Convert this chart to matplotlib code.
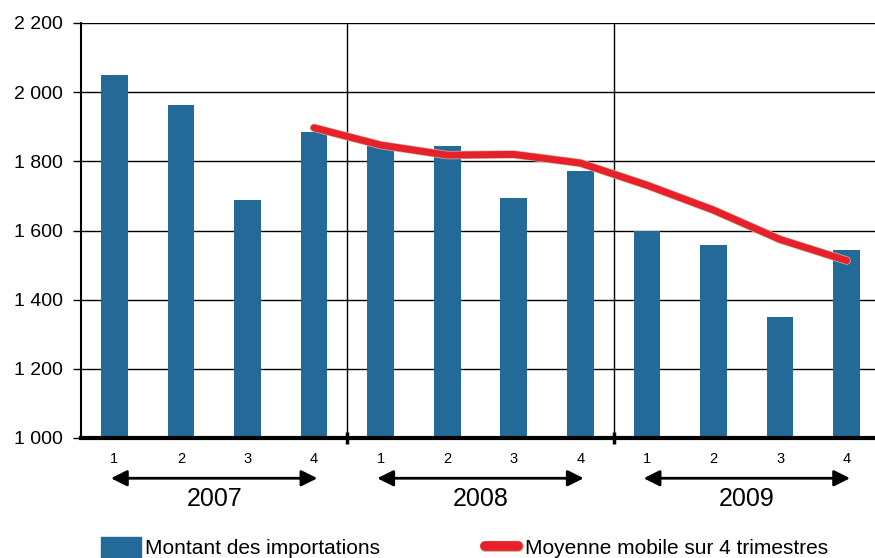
import matplotlib
matplotlib.use("Agg")
import matplotlib.pyplot as plt
import matplotlib.patheffects as pe
from matplotlib.patches import Rectangle
from matplotlib.lines import Line2D
import numpy as np

plt.rcParams['font.family'] = ['Liberation Sans', 'DejaVu Sans']

years = ["2007", "2008", "2009"]
quarters = ["1", "2", "3", "4"]
imports = [2050, 1963, 1688, 1885, 1843, 1845, 1694, 1772, 1598, 1558, 1350, 1544]
moving_avg = [None, None, None, 1897, 1847, 1818, 1820, 1795, 1731, 1659, 1574, 1513]
y_ticks = [1000, 1200, 1400, 1600, 1800, 2000, 2200]
y_labels = ["1 000", "1 200", "1 400", "1 600", "1 800", "2 000", "2 200"]

bar_color = "#246A98"
line_color = "#E8202C"

fig = plt.figure(figsize=(8.75, 5.58), dpi=100)
ax = fig.add_axes([81/875, 120/558, 799/875, 415/558])

x = np.arange(len(imports))
ax.bar(x, imports, width=0.4, color=bar_color, zorder=3)
ma_x = [i for i, v in enumerate(moving_avg) if v is not None]
ma_y = [v for v in moving_avg if v is not None]
ax.plot(ma_x, ma_y, color=line_color, lw=5, solid_capstyle='round', zorder=4,
        path_effects=[pe.Stroke(linewidth=6, foreground='#CDBB9A'), pe.Normal()])

ax.set_xlim(-0.5, len(imports) - 0.5)
ax.set_ylim(1000, 2200)
ax.set_yticks(y_ticks)
ax.set_yticklabels(y_labels, fontsize=14)
ax.yaxis.grid(True, color='black', lw=1, zorder=1)
ax.set_axisbelow(True)
ax.tick_params(axis='y', direction='out', length=6, width=1, pad=7)

ax.set_xticks(x)
ax.set_xticklabels(quarters * len(years), fontsize=10.5)
ax.tick_params(axis='x', length=0, pad=10)
ax.set_xticks([3.5, 7.5], minor=True)
ax.tick_params(axis='x', which='minor', direction='inout', length=8, width=2.5)

for b in [3.5, 7.5]:
    ax.axvline(b, color='black', lw=1, zorder=2)

for s in ['top', 'right']:
    ax.spines[s].set_visible(False)
ax.spines['left'].set_linewidth(1.5)
ax.spines['bottom'].set_linewidth(3)
ax.spines['bottom'].set_zorder(5)

for i, yr in enumerate(years):
    x0 = i * 4 - 0.05
    x1 = i * 4 + 3 + 0.05
    ax.annotate("", xy=(x0, -0.097), xytext=(x1, -0.097),
                xycoords=('data', 'axes fraction'), textcoords=('data', 'axes fraction'),
                arrowprops=dict(arrowstyle='<|-|>', color='black', lw=2,
                                mutation_scale=24, shrinkA=0, shrinkB=0),
                annotation_clip=False)
    ax.text(i * 4 + 1.5, -0.148, yr, transform=ax.get_xaxis_transform(),
            ha='center', va='center', fontsize=18)

# legend
fig.add_artist(Rectangle((101/875, 0), 40/875, 21/558, transform=fig.transFigure,
                         color=bar_color))
fig.text(145/875, 10/558, "Montant des importations", fontsize=15, va='center', ha='left')
fig.add_artist(Line2D([485/875, 518/875], [12/558, 12/558], transform=fig.transFigure,
                      color=line_color, lw=7, solid_capstyle='round',
                      path_effects=[pe.Stroke(linewidth=8, foreground='#CDBB9A'), pe.Normal()]))
fig.text(525/875, 10/558, "Moyenne mobile sur 4 trimestres", fontsize=15, va='center', ha='left')

fig.savefig("out.png", dpi=100)
